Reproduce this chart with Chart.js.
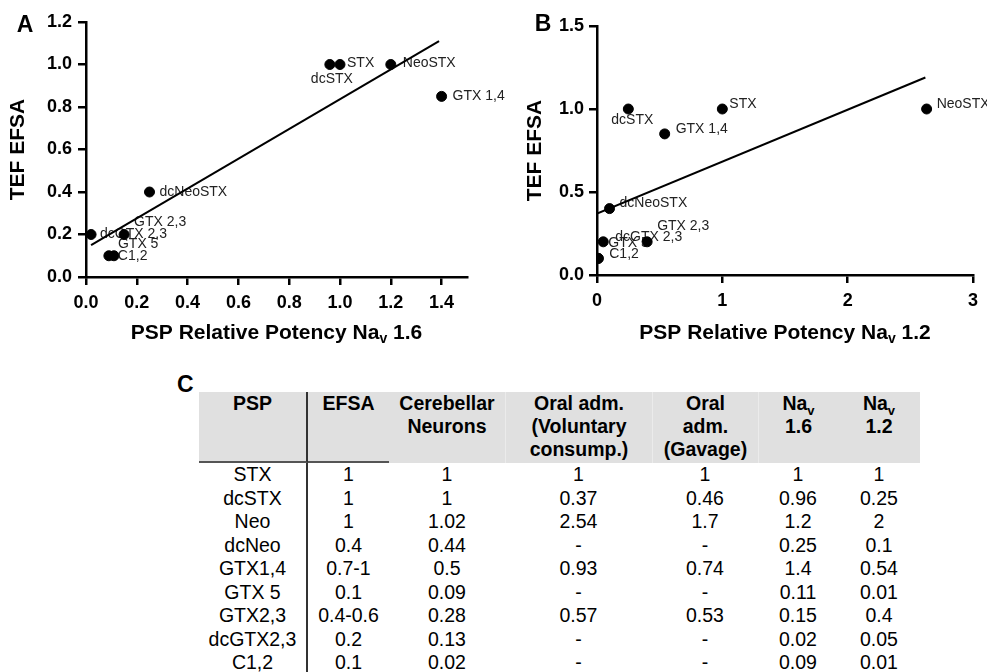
<!DOCTYPE html>
<html><head><meta charset="utf-8">
<script src="https://cdn.jsdelivr.net/npm/chart.js@4.4.1/dist/chart.umd.min.js"></script>
<style>
html,body{margin:0;padding:0;background:#fff;width:987px;height:672px;overflow:hidden;font-family:"Liberation Sans",Arial,sans-serif;}
#cA{position:absolute;left:0;top:0;}
#cB{position:absolute;left:490px;top:0;}
#lblC{position:absolute;left:177px;top:371px;font:bold 23px/26px "Liberation Sans",Arial,sans-serif;color:#000;}
#tbl{position:absolute;left:199px;top:392px;border-collapse:separate;border-spacing:0;table-layout:fixed;color:#000;}
#tbl th{background:#e0e0e0;font:bold 19.5px/23px "Liberation Sans",Arial,sans-serif;vertical-align:top;padding:0;height:69px;text-align:center;white-space:nowrap;}
#tbl td{font:19.5px/23.5px "Liberation Sans",Arial,sans-serif;padding:0;text-align:center;height:23.5px;white-space:nowrap;}
#tbl .c0{border-right:2px solid #333;}
#tbl th.ul{border-bottom:2px solid #555;}
#tbl th.sep{border-left:1px solid #ebebeb;}
.sub{font-size:13px;position:relative;top:5px;line-height:0;}
</style>
</head><body>
<canvas id="cA" width="520" height="360"></canvas>
<canvas id="cB" width="497" height="360"></canvas>
<div id="lblC">C</div>
<table id="tbl"><colgroup id="cols"></colgroup><thead><tr id="hdr"></tr></thead><tbody id="body"></tbody></table>
<script>
// ---- scatter data ----
const toxinNames   = ['STX','dcSTX','NeoSTX','GTX 1,4','dcNeoSTX','GTX 2,3','dcGTX 2,3','GTX 5','C1,2'];
const tefEFSA      = [1, 1, 1, 0.85, 0.4, 0.2, 0.2, 0.1, 0.1];
const potencyNav16 = [1, 0.96, 1.2, 1.4, 0.25, 0.15, 0.02, 0.11, 0.09];
const potencyNav12 = [1, 0.25, 2.63, 0.54, 0.1, 0.4, 0.05, 0.01, 0.01];
// regression lines (end points)
const fitA_x = [0.02, 1.39];
const fitA_y = [0.15, 1.11];
const fitB_x = [0, 2.62];
const fitB_y = [0.37, 1.19];

// ---- table data ----
const tableHeaders = [['PSP'],['EFSA'],['Cerebellar','Neurons'],['Oral adm.','(Voluntary','consump.)'],['Oral','adm.','(Gavage)'],['Na_v','1.6'],['Na_v','1.2']];
const colPSP        = ['STX','dcSTX','Neo','dcNeo','GTX1,4','GTX 5','GTX2,3','dcGTX2,3','C1,2'];
const colEFSA       = ['1','1','1','0.4','0.7-1','0.1','0.4-0.6','0.2','0.1'];
const colCerebellar = ['1','1','1.02','0.44','0.5','0.09','0.28','0.13','0.02'];
const colOralVol    = ['1','0.37','2.54','-','0.93','-','0.57','-','-'];
const colGavage     = ['1','0.46','1.7','-','0.74','-','0.53','-','-'];
const colNav16      = ['1','0.96','1.2','0.25','1.4','0.11','0.15','0.02','0.09'];
const colNav12      = ['1','0.25','2','0.1','0.54','0.01','0.4','0.05','0.01'];

// ---- layout / style (not data) ----
const colWidths = [109, 81, 116, 147, 106, 80, 82];
const FONT = '"Liberation Sans", Arial, sans-serif';
const labelOffsetsA = [[7,-1],[-19,15],[12,-1],[11,0],[10,0],[10,-12],[9,0],[4,-12],[9,0]];
const labelOffsetsB = [[7,-5],[-17,11],[10,-5],[11,-5],[10,-5],[10,-16],[12,-5],[10,-15],[11,-4]];

// build table
(function(){
  const cols = document.getElementById('cols');
  colWidths.forEach(w=>{const c=document.createElement('col');c.style.width=w+'px';cols.appendChild(c);});
  const hdr = document.getElementById('hdr');
  tableHeaders.forEach((lines,i)=>{
    const th=document.createElement('th');
    if(i===0) th.className='c0 ul';
    if(i===1) th.className='ul';
    if(i===3||i===4||i===5) th.className='sep';
    lines.forEach((ln,j)=>{
      if(j>0) th.appendChild(document.createElement('br'));
      if(ln.indexOf('_')>=0){
        const [a,b]=ln.split('_');
        th.appendChild(document.createTextNode(a));
        const s=document.createElement('span');s.className='sub';s.textContent=b;th.appendChild(s);
      } else th.appendChild(document.createTextNode(ln));
    });
    hdr.appendChild(th);
  });
  const body=document.getElementById('body');
  const columns=[colPSP,colEFSA,colCerebellar,colOralVol,colGavage,colNav16,colNav12];
  colPSP.forEach((_,r)=>{
    const tr=document.createElement('tr');
    columns.forEach((c,k)=>{const td=document.createElement('td');if(k===0)td.className='c0';td.textContent=c[r];tr.appendChild(td);});
    body.appendChild(tr);
  });
})();

function pts(xs,ys){return xs.map((x,i)=>({x:x,y:ys[i]}));}

function makePlugin(cfg){
  return {
    id:'deco'+cfg.letter,
    beforeDatasetsDraw(chart){
      const ctx=chart.ctx, x=chart.scales.x, y=chart.scales.y;
      ctx.save();
      ctx.font='14px '+FONT; ctx.fillStyle='#222'; ctx.textAlign='left'; ctx.textBaseline='middle';
      cfg.names.forEach((n,i)=>{
        const px=x.getPixelForValue(cfg.xs[i]), py=y.getPixelForValue(cfg.ys[i]);
        ctx.fillText(n, px+cfg.offsets[i][0], py+cfg.offsets[i][1]);
      });
      ctx.restore();
    },
    afterDraw(chart){
      const ctx=chart.ctx, a=chart.chartArea;
      ctx.save();
      ctx.fillStyle='#000';
      ctx.font='bold 23px '+FONT; ctx.textAlign='center'; ctx.textBaseline='middle';
      ctx.fillText(cfg.letter, cfg.letterPos[0], cfg.letterPos[1]);
      ctx.save();
      ctx.translate(cfg.yTitleX, (a.top+a.bottom)/2);
      ctx.rotate(-Math.PI/2);
      ctx.font='bold 21px '+FONT;
      ctx.fillText(cfg.yTitle,0,0);
      ctx.restore();
      const main=cfg.xTitle[0], sub=cfg.xTitle[1], tail=cfg.xTitle[2];
      ctx.font='bold 21px '+FONT; const w1=ctx.measureText(main).width, w3=ctx.measureText(tail).width;
      ctx.font='bold 14px '+FONT; const w2=ctx.measureText(sub).width;
      let x0=(a.left+a.right)/2-(w1+w2+w3)/2, yy=cfg.xTitleY;
      ctx.textAlign='left';
      ctx.font='bold 21px '+FONT; ctx.fillText(main,x0,yy);
      ctx.font='bold 14px '+FONT; ctx.fillText(sub,x0+w1,yy+6);
      ctx.font='bold 21px '+FONT; ctx.fillText(tail,x0+w1+w2,yy);
      ctx.restore();
    }
  };
}

function axisCommon(){
  return {
    type:'linear',
    border:{display:true,color:'#000',width:2.5},
    grid:{drawOnChartArea:false,drawTicks:true,tickLength:8,color:'#000',lineWidth:2.5},
    title:{display:false}
  };
}

function makeChart(id, xs, fx, fy, opt){
  const xAxis=Object.assign(axisCommon(),{
    min:opt.xMin,max:opt.xMax,
    ticks:{stepSize:opt.xStep,includeBounds:false,color:'#000',font:{family:FONT,size:18,weight:'bold'},padding:7,maxRotation:0,autoSkip:false,
      callback:v=>v.toFixed(opt.xDec)},
    afterFit:s=>{s.height=opt.xH;}
  });
  const yAxis=Object.assign(axisCommon(),{
    min:0,max:opt.yMax,
    ticks:{stepSize:opt.yStep,includeBounds:false,color:'#000',font:{family:FONT,size:18,weight:'bold'},padding:opt.yPad,autoSkip:false,
      callback:v=>v.toFixed(1)},
    afterFit:s=>{s.width=opt.yW;}
  });
  return new Chart(document.getElementById(id),{
    type:'scatter',
    data:{datasets:[
      {label:'points',data:pts(xs,tefEFSA),backgroundColor:'#000',borderColor:'#000',pointRadius:5,pointHoverRadius:5,order:0},
      {type:'line',label:'fit',data:pts(fx,fy),borderColor:'#000',borderWidth:2,pointRadius:0,fill:false,order:1}
    ]},
    options:{
      responsive:false,animation:false,devicePixelRatio:1,
      layout:{padding:{top:opt.padTop,right:opt.padRight,left:0,bottom:0}},
      plugins:{legend:{display:false},tooltip:{enabled:false}},
      scales:{x:xAxis,y:yAxis}
    },
    plugins:[makePlugin(opt.deco)]
  });
}

makeChart('cA', potencyNav16, fitA_x, fitA_y, {
  xMin:0,xMax:1.5,xStep:0.2,xDec:1,yMax:1.2,yStep:0.2,yPad:6,xH:83,yW:86,padTop:22,padRight:53,
  deco:{letter:'A',letterPos:[25,26],names:toxinNames,xs:potencyNav16,ys:tefEFSA,offsets:labelOffsetsA,
    yTitle:'TEF EFSA',yTitleX:18,xTitle:['PSP Relative Potency Na','v',' 1.6'],xTitleY:333}
});
makeChart('cB', potencyNav12, fitB_x, fitB_y, {
  xMin:0,xMax:3,xStep:1,xDec:0,yMax:1.5,yStep:0.5,yPad:5,xH:85,yW:107,padTop:26,padRight:14,
  deco:{letter:'B',letterPos:[53,25],names:toxinNames,xs:potencyNav12,ys:tefEFSA,offsets:labelOffsetsB,
    yTitle:'TEF EFSA',yTitleX:45,xTitle:['PSP Relative Potency Na','v',' 1.2'],xTitleY:333}
});
</script>
</body></html>
